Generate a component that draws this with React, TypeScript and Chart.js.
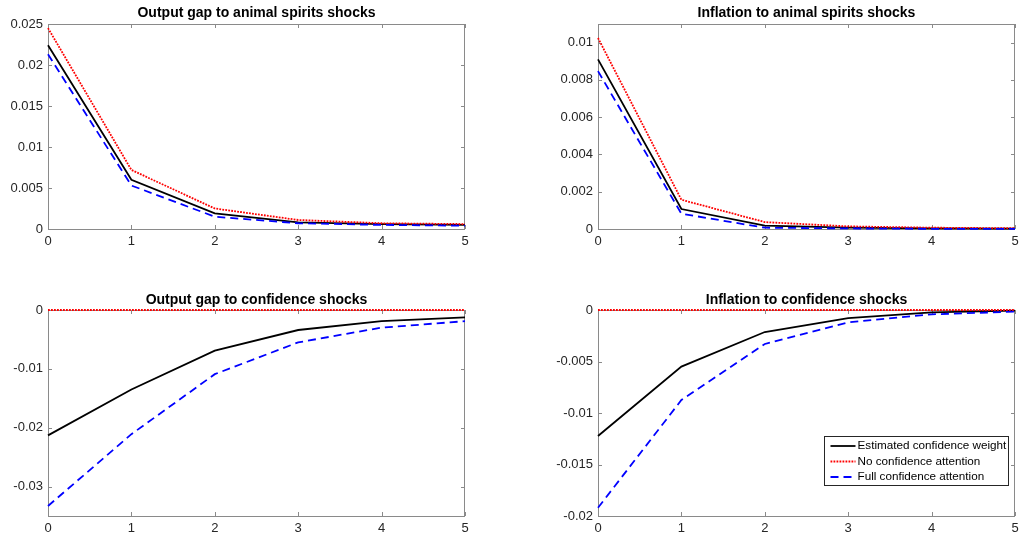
import { useEffect, useRef } from "react";
import { Chart, registerables } from "chart.js";

Chart.register(...registerables);

// ---------------- data ----------------
const periods = [0, 1, 2, 3, 4, 5];
const xTicks = [0, 1, 2, 3, 4, 5];

const seriesLabels = [
  "Estimated confidence weight",
  "No confidence attention",
  "Full confidence attention",
];

// Output gap to animal spirits shocks
const outputAnimalEstimated = [0.0224, 0.006, 0.0019, 0.0008, 0.0006, 0.0005];
const outputAnimalNone = [0.0245, 0.0072, 0.0025, 0.0011, 0.0007, 0.0006];
const outputAnimalFull = [0.0213, 0.0053, 0.0015, 0.0007, 0.0005, 0.0004];
const outputAnimalTicks = [0, 0.005, 0.01, 0.015, 0.02, 0.025];

// Inflation to animal spirits shocks
const inflationAnimalEstimated = [0.0091, 0.00107, 0.00018, 0.00007, 0.00003, 0.00002];
const inflationAnimalNone = [0.01025, 0.00157, 0.00037, 0.00014, 0.00007, 0.00004];
const inflationAnimalFull = [0.00847, 0.00082, 0.00007, 0.00003, 0.00001, 0.00001];
const inflationAnimalTicks = [0, 0.002, 0.004, 0.006, 0.008, 0.01];

// Output gap to confidence shocks
const outputConfEstimated = [-0.0213, -0.0135, -0.0069, -0.0034, -0.0019, -0.00125];
const outputConfNone = [0, 0, 0, 0, 0, 0];
const outputConfFull = [-0.0333, -0.0211, -0.0109, -0.0055, -0.003, -0.0019];
const outputConfTicks = [-0.03, -0.02, -0.01, 0];

// Inflation to confidence shocks
const inflationConfEstimated = [-0.01223, -0.0055, -0.00214, -0.00078, -0.00023, -0.00006];
const inflationConfNone = [0, 0, 0, 0, 0, 0];
const inflationConfFull = [-0.0192, -0.00874, -0.0033, -0.0012, -0.00042, -0.00016];
const inflationConfTicks = [-0.02, -0.015, -0.01, -0.005, 0];

// ---------------- styling ----------------
const FONT = "'Liberation Sans', Arial, Helvetica, sans-serif";
const AXIS_COLOR = "#8a8a8a";
const TEXT_COLOR = "#262626";

const seriesStyles = [
  { color: "#000000", dash: [] as number[], width: 1.8 },
  { color: "#ff0000", dash: [1.8, 1.2], width: 1.8 },
  { color: "#0000ff", dash: [8, 5], width: 1.8 },
];

const boxPlugin = {
  id: "matlabBox",
  beforeDatasetsDraw(chart: any) {
    const { ctx, chartArea } = chart;
    const { left, right, top, bottom } = chartArea;
    const xs = chart.scales.x;
    const ys = chart.scales.y;
    const tl = 4;
    ctx.save();
    ctx.strokeStyle = AXIS_COLOR;
    ctx.lineWidth = 1;
    ctx.strokeRect(Math.round(left) + 0.5, Math.round(top) + 0.5, Math.round(right - left) - 1, Math.round(bottom - top));
    ctx.beginPath();
    xs.ticks.forEach((t: any) => {
      const px = Math.round(xs.getPixelForValue(t.value)) + 0.5;
      ctx.moveTo(px, bottom);
      ctx.lineTo(px, bottom - tl);
      ctx.moveTo(px, top);
      ctx.lineTo(px, top + tl);
    });
    ys.ticks.forEach((t: any) => {
      const py = Math.round(ys.getPixelForValue(t.value)) + 0.5;
      ctx.moveTo(left, py);
      ctx.lineTo(left + tl, py);
      ctx.moveTo(right, py);
      ctx.lineTo(right - tl, py);
    });
    ctx.stroke();
    ctx.restore();
  },
};

const titlePlugin = {
  id: "panelTitle",
  afterDraw(chart: any, _args: any, opts: any) {
    if (!opts || !opts.text) return;
    const { ctx, chartArea } = chart;
    ctx.save();
    ctx.font = `bold 14px ${FONT}`;
    ctx.fillStyle = "#000000";
    ctx.textAlign = "center";
    ctx.textBaseline = "middle";
    ctx.fillText(opts.text, (chartArea.left + chartArea.right) / 2, opts.y);
    ctx.restore();
  },
};

const legendPlugin = {
  id: "insideLegend",
  afterDraw(chart: any, _args: any, opts: any) {
    if (!opts || !opts.show) return;
    const { ctx, chartArea } = chart;
    const w = 184;
    const h = 49;
    const x0 = Math.round(chartArea.right - 7 - w) + 0.5;
    const y0 = Math.round(chartArea.bottom - 31 - h) + 0.5;
    ctx.save();
    ctx.fillStyle = "#ffffff";
    ctx.fillRect(x0, y0, w, h);
    ctx.strokeStyle = "#262626";
    ctx.lineWidth = 1;
    ctx.strokeRect(x0, y0, w, h);
    ctx.font = `11.7px ${FONT}`;
    ctx.textBaseline = "middle";
    ctx.textAlign = "left";
    chart.data.datasets.forEach((ds: any, i: number) => {
      const cy = y0 + 9.5 + i * 15.5;
      ctx.beginPath();
      ctx.strokeStyle = ds.borderColor;
      ctx.lineWidth = ds.borderWidth;
      ctx.setLineDash(ds.borderDash || []);
      ctx.moveTo(x0 + 6, cy);
      ctx.lineTo(x0 + 31, cy);
      ctx.stroke();
      ctx.setLineDash([]);
      ctx.fillStyle = "#000000";
      ctx.fillText(ds.label, x0 + 33, cy);
    });
    ctx.restore();
  },
};

type PanelProps = {
  left: number;
  top: number;
  width: number;
  height: number;
  padRight: number;
  padTop: number;
  title: string;
  titleY: number;
  series: number[][];
  yMin: number;
  yMax: number;
  yTicks: number[];
  showLegend?: boolean;
};

function Panel(p: PanelProps) {
  const ref = useRef<HTMLCanvasElement>(null);
  useEffect(() => {
    if (!ref.current) return;
    const datasets = p.series.map((vals, i) => ({
      label: seriesLabels[i],
      data: periods.map((x, j) => ({ x, y: vals[j] })),
      borderColor: seriesStyles[i].color,
      borderDash: seriesStyles[i].dash,
      borderWidth: seriesStyles[i].width,
      pointRadius: 0,
      fill: false,
      tension: 0,
      clip: 3,
      order: 3 - i,
    }));
    const chart = new Chart(ref.current, {
      type: "line",
      data: { datasets },
      options: {
        animation: false,
        responsive: false,
        maintainAspectRatio: false,
        layout: { padding: { left: 0, right: p.padRight, top: p.padTop, bottom: 0 } },
        plugins: {
          legend: { display: false },
          tooltip: { enabled: false },
          title: { display: false },
          panelTitle: { text: p.title, y: p.titleY },
          insideLegend: { show: !!p.showLegend },
        } as any,
        scales: {
          x: {
            type: "linear",
            min: 0,
            max: 5,
            afterBuildTicks: (s: any) => {
              s.ticks = xTicks.map((v) => ({ value: v }));
            },
            afterFit: (s: any) => {
              s.height = 20;
            },
            ticks: {
              autoSkip: false,
              maxRotation: 0,
              padding: 5,
              color: TEXT_COLOR,
              font: { family: FONT, size: 13 },
              callback: (v: any) => String(v),
            },
            grid: { display: false, drawTicks: false },
            border: { display: false },
          },
          y: {
            type: "linear",
            min: p.yMin,
            max: p.yMax,
            afterBuildTicks: (s: any) => {
              s.ticks = p.yTicks.map((v) => ({ value: v }));
            },
            afterFit: (s: any) => {
              s.width = 48;
            },
            ticks: {
              autoSkip: false,
              padding: 5,
              color: TEXT_COLOR,
              font: { family: FONT, size: 13 },
              callback: (v: any) => String(v),
            },
            grid: { display: false, drawTicks: false },
            border: { display: false },
          },
        },
      } as any,
      plugins: [boxPlugin, titlePlugin, legendPlugin],
    });
    return () => chart.destroy();
  }, []);
  return (
    <canvas
      ref={ref}
      width={p.width}
      height={p.height}
      style={{ position: "absolute", left: p.left, top: p.top, width: p.width, height: p.height }}
    />
  );
}

export default function App() {
  return (
    <div
      style={{
        position: "fixed",
        left: 0,
        top: 0,
        width: 1019,
        height: 539,
        background: "#ffffff",
        overflow: "hidden",
      }}
    >
      <Panel
        left={0}
        top={0}
        width={490}
        height={249}
        padRight={25}
        padTop={24}
        title="Output gap to animal spirits shocks"
        titleY={13.5}
        series={[outputAnimalEstimated, outputAnimalNone, outputAnimalFull]}
        yMin={0}
        yMax={0.025}
        yTicks={outputAnimalTicks}
      />
      <Panel
        left={550}
        top={0}
        width={490}
        height={249}
        padRight={25}
        padTop={24}
        title="Inflation to animal spirits shocks"
        titleY={13.5}
        series={[inflationAnimalEstimated, inflationAnimalNone, inflationAnimalFull]}
        yMin={0}
        yMax={0.011}
        yTicks={inflationAnimalTicks}
      />
      <Panel
        left={0}
        top={280}
        width={490}
        height={256}
        padRight={25}
        padTop={30}
        title="Output gap to confidence shocks"
        titleY={20.5}
        series={[outputConfEstimated, outputConfNone, outputConfFull]}
        yMin={-0.035}
        yMax={0}
        yTicks={outputConfTicks}
      />
      <Panel
        left={550}
        top={280}
        width={490}
        height={256}
        padRight={25}
        padTop={30}
        title="Inflation to confidence shocks"
        titleY={20.5}
        series={[inflationConfEstimated, inflationConfNone, inflationConfFull]}
        yMin={-0.02}
        yMax={0}
        yTicks={inflationConfTicks}
        showLegend
      />
    </div>
  );
}
